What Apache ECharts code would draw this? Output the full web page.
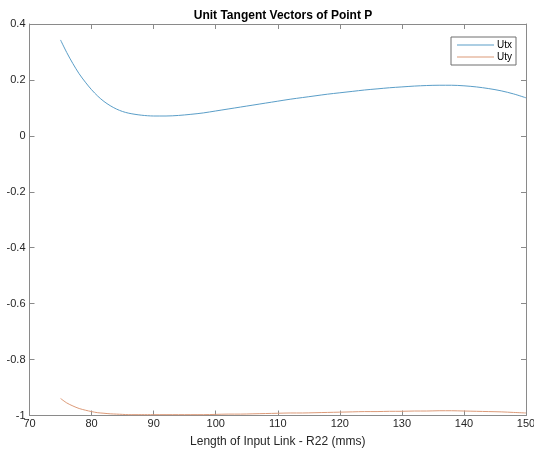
<!DOCTYPE html>
<html>
<head>
<meta charset="utf-8">
<script src="https://cdn.jsdelivr.net/npm/echarts@6/dist/echarts.min.js"></script>
<style>
  html, body { margin: 0; padding: 0; background: #fff; }
  #chart { width: 534px; height: 449px; }
</style>
</head>
<body>
<div id="chart"></div>
<script>
// Link length R22 (mms)
const r22 = [75, 76, 77, 78, 79, 80, 81, 82, 83, 84, 85, 86, 87, 88, 89, 90,
  92, 94, 96, 98, 100, 102, 104, 106, 108, 110, 112, 114, 116, 118, 120,
  122, 124, 126, 128, 130, 132, 134, 136, 138, 140, 142, 144, 146, 148, 150];

// Unit tangent vector, x component
const utx = [0.343, 0.298, 0.258, 0.222, 0.192, 0.165, 0.142, 0.123, 0.108, 0.096,
  0.087, 0.081, 0.077, 0.074, 0.072, 0.071,
  0.071, 0.073, 0.077, 0.082, 0.089, 0.096, 0.103, 0.110, 0.117, 0.124,
  0.131, 0.137, 0.143, 0.149, 0.154, 0.159, 0.164, 0.168, 0.172, 0.175,
  0.178, 0.180, 0.181, 0.181, 0.179, 0.175, 0.169, 0.161, 0.150, 0.136];

// Unit tangent vector, y component
const uty = [-0.939, -0.955, -0.966, -0.975, -0.981, -0.986, -0.990, -0.992, -0.994, -0.995,
  -0.996, -0.997, -0.997, -0.997, -0.997, -0.997,
  -0.997, -0.997, -0.997, -0.997, -0.996, -0.995, -0.995, -0.994, -0.993, -0.992,
  -0.991, -0.991, -0.990, -0.989, -0.988, -0.987, -0.986, -0.986, -0.985, -0.985,
  -0.984, -0.984, -0.983, -0.983, -0.984, -0.985, -0.986, -0.987, -0.989, -0.991];

const xTicks = { min: 70, max: 150, interval: 10 };
const yTicks = { min: -1, max: 0.4, interval: 0.2 };

const pairs = (ys) => r22.map((x, i) => [x, ys[i]]);

const FONT = '"Liberation Sans", Arial, Helvetica, sans-serif';
const frameColor = '#8a8a8a';
const textColor = '#262626';

const chart = echarts.init(document.getElementById('chart'), null, { renderer: 'canvas' });

const frameAxis = {
  axisLine: { show: true, onZero: false, lineStyle: { color: frameColor, width: 1 } },
  axisTick: { show: true, inside: true, length: 5, lineStyle: { color: frameColor } },
  splitLine: { show: false }
};

chart.setOption({
  animation: false,
  backgroundColor: '#ffffff',
  title: {
    text: 'Unit Tangent Vectors of Point P',
    left: 278,
    textAlign: 'center',
    top: 5,
    textStyle: { fontFamily: FONT, fontSize: 12, fontWeight: 'bold', color: '#000' }
  },
  legend: {
    orient: 'vertical',
    right: 18,
    top: 37,
    align: 'left',
    icon: 'rect',
    itemWidth: 37,
    itemHeight: 1,
    itemGap: 2,
    padding: [3, 4, 3, 6],
    borderColor: '#6e6e6e',
    borderWidth: 1,
    backgroundColor: '#fff',
    textStyle: { fontFamily: FONT, fontSize: 10, color: '#000', padding: [0, 0, 0, -2] },
    data: ['Utx', 'Uty']
  },
  grid: {
    left: 29.5, right: 8, top: 24, bottom: 33.5,
    containLabel: false,
    outerBoundsMode: 'none'
  },
  xAxis: [
    Object.assign({
      type: 'value',
      position: 'bottom',
      min: xTicks.min, max: xTicks.max, interval: xTicks.interval,
      name: 'Length of Input Link - R22 (mms)',
      nameLocation: 'middle',
      nameGap: 20,
      nameTextStyle: { fontFamily: FONT, fontSize: 12, color: textColor },
      axisLabel: { fontFamily: FONT, fontSize: 11, color: textColor, margin: 3 }
    }, frameAxis),
    Object.assign({
      type: 'value',
      position: 'top',
      min: xTicks.min, max: xTicks.max, interval: xTicks.interval,
      axisLabel: { show: false }
    }, frameAxis)
  ],
  yAxis: [
    Object.assign({
      type: 'value',
      position: 'left',
      min: yTicks.min, max: yTicks.max, interval: yTicks.interval,
      axisLabel: { fontFamily: FONT, fontSize: 11, color: textColor, margin: 4 }
    }, frameAxis),
    Object.assign({
      type: 'value',
      position: 'right',
      min: yTicks.min, max: yTicks.max, interval: yTicks.interval,
      axisLabel: { show: false }
    }, frameAxis)
  ],
  series: [
    {
      name: 'Utx',
      type: 'line',
      xAxisIndex: 0, yAxisIndex: 0,
      data: pairs(utx),
      smooth: 0.3,
      showSymbol: false,
      symbol: 'none',
      color: '#5a9ec8',
      lineStyle: { color: '#5a9ec8', width: 1 }
    },
    {
      name: 'Uty',
      type: 'line',
      xAxisIndex: 0, yAxisIndex: 0,
      data: pairs(uty),
      smooth: 0.3,
      showSymbol: false,
      symbol: 'none',
      color: '#dc9a78',
      lineStyle: { color: '#dc9a78', width: 1 }
    }
  ]
});
</script>
</body>
</html>
